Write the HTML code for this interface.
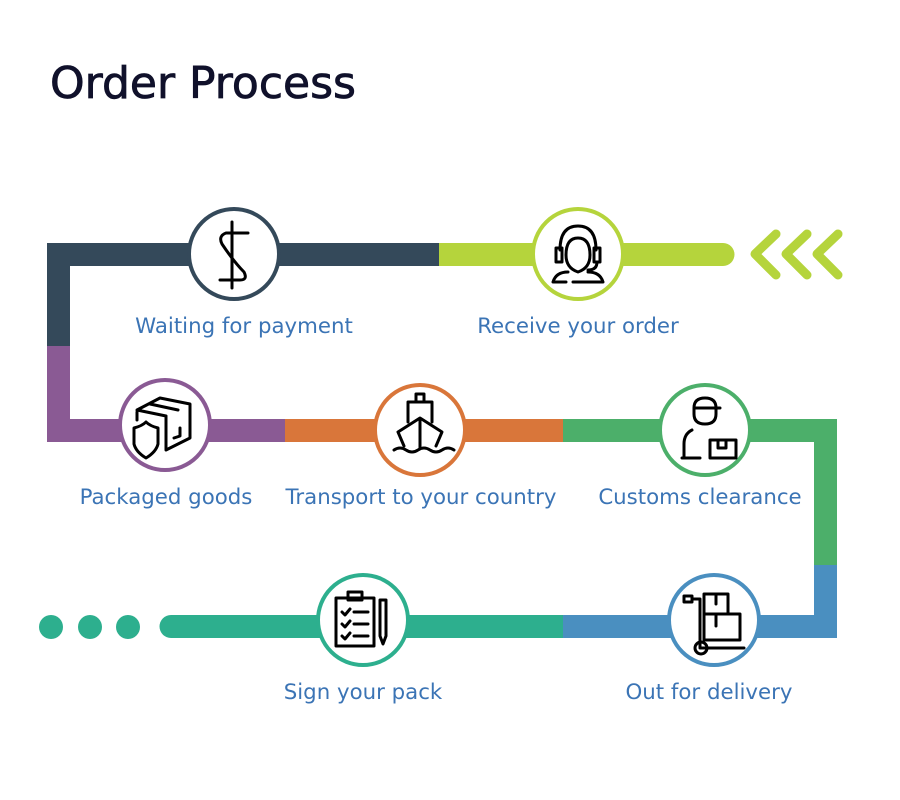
<!DOCTYPE html>
<html><head><meta charset="utf-8"><style>
html,body{margin:0;padding:0;background:#fff;width:900px;height:800px;overflow:hidden}
svg{display:block}
</style></head><body>
<svg width="900" height="800" viewBox="0 0 900 800" xmlns="http://www.w3.org/2000/svg">
<text x="50" y="98" font-size="44" fill="#10112b" stroke="#10112b" stroke-width="0.8" style="font-family:'DejaVu Sans',sans-serif">Order Process</text>
<rect x="47" y="243" width="392" height="23" fill="#34495a"/>
<rect x="47" y="243" width="23" height="103" fill="#34495a"/>
<path d="M439 243 H723 a11.5 11.5 0 0 1 0 23 H439 Z" fill="#b5d43c"/>
<g stroke="#b5d43c" stroke-width="9" stroke-linecap="round" stroke-linejoin="round" fill="none">
<path d="M776 234 L755 254 L776 275"/>
<path d="M807 234 L786 254 L807 275"/>
<path d="M838 234 L817 254 L838 275"/>
</g>
<rect x="47" y="346" width="23" height="96" fill="#8a5a94"/>
<rect x="47" y="419" width="238" height="23" fill="#8a5a94"/>
<rect x="285" y="419" width="278" height="23" fill="#d9763a"/>
<rect x="563" y="419" width="274" height="23" fill="#4caf6a"/>
<rect x="814" y="419" width="23" height="146" fill="#4caf6a"/>
<rect x="814" y="565" width="23" height="73" fill="#4a8fc0"/>
<rect x="563" y="615" width="274" height="23" fill="#4a8fc0"/>
<path d="M563 615 H171 a11.5 11.5 0 0 0 0 23 H563 Z" fill="#2daf8e"/>
<circle cx="51" cy="627" r="12" fill="#2daf8e"/>
<circle cx="90" cy="627" r="12" fill="#2daf8e"/>
<circle cx="128" cy="627" r="12" fill="#2daf8e"/>
<g fill="#fff" stroke-width="4">
<circle cx="234" cy="254" r="45" stroke="#34495a"/>
<circle cx="578" cy="254" r="45" stroke="#b5d43c"/>
<circle cx="165" cy="425" r="45" stroke="#8a5a94"/>
<circle cx="420" cy="430" r="45" stroke="#d9763a"/>
<circle cx="705" cy="430" r="45" stroke="#4caf6a"/>
<circle cx="714" cy="620" r="45" stroke="#4a8fc0"/>
<circle cx="363" cy="620" r="45" stroke="#2daf8e"/>
</g>
<g stroke="#000" stroke-width="3" fill="none" stroke-linecap="round" stroke-linejoin="round">
<path d="M232 222 V288 M248 233 H226 Q218 236 222 244 Q234 262 244 272 Q248 280 240 280 H220"/>
<path d="M560 250 Q560 226 578 226 Q596 226 596 250 M566 255 Q566 268 578 272 Q590 268 590 255 Q590 238 578 238 Q566 238 566 255 M556 248 h6 v14 h-6z M594 248 h6 v14 h-6z M597 262 Q597 270 588 270 M553 282 Q556 272 568 272 M588 272 Q600 272 603 282 M553 282 H566 M573 282 H603"/>
<path d="M137 410 L160 398 L190 404 L190 438 L166 450 L166 416 Z M137 410 L166 416 M150 404 L178 410 M137 420 V412 M166 450 V416 M180 428 V436 L174 438"/>
<path d="M134 428 Q142 426 146 422 Q150 426 158 428 V444 Q156 452 146 458 Q136 452 134 444 Z"/>
<path d="M416 394 h8 v8 h-8z M408 402 h24 v20 M408 402 v20 M398 432 L420 418 L442 432 L436 446 M398 432 L404 446 M420 420 V448 M394 450 q6 -4 12 0 q6 4 12 0 q6 -4 12 0 q6 4 12 0 q6 -4 12 0"/>
<path d="M694 408 Q694 398 705 398 Q716 398 716 408 V414 Q716 424 705 424 Q694 424 694 414 Z M694 408 H720 M692 430 Q684 434 684 444 V458 M682 458 H700 M710 440 h26 v18 h-26z M718 440 v8 h8 v-8"/>
<path d="M684 596 h8 v6 h-8z M692 599 h8 V648 H744 M704 594 h24 v20 h-24z M704 614 h36 v26 h-36z M716 594 v10 M716 614 v12"/>
<circle cx="701" cy="648" r="6"/>
<path d="M336 598 h38 v48 h-38z M348 592 h14 v8 h-14z M342 612 l3 3 l5 -6 M354 612 h14 M342 624 l3 3 l5 -6 M354 624 h14 M342 636 l3 3 l5 -6 M354 636 h14 M386 600 v36 l-3 8 l-3 -8 v-36z"/>
</g>
<g font-size="21.3" fill="#3b74b5" text-anchor="middle" style="font-family:'DejaVu Sans',sans-serif">
<text x="244" y="333">Waiting for payment</text>
<text x="578" y="333">Receive your order</text>
<text x="166" y="504">Packaged goods</text>
<text x="421" y="504">Transport to your country</text>
<text x="700" y="504">Customs clearance</text>
<text x="709" y="699">Out for delivery</text>
<text x="363" y="699">Sign your pack</text>
</g>
</svg>
</body></html>
